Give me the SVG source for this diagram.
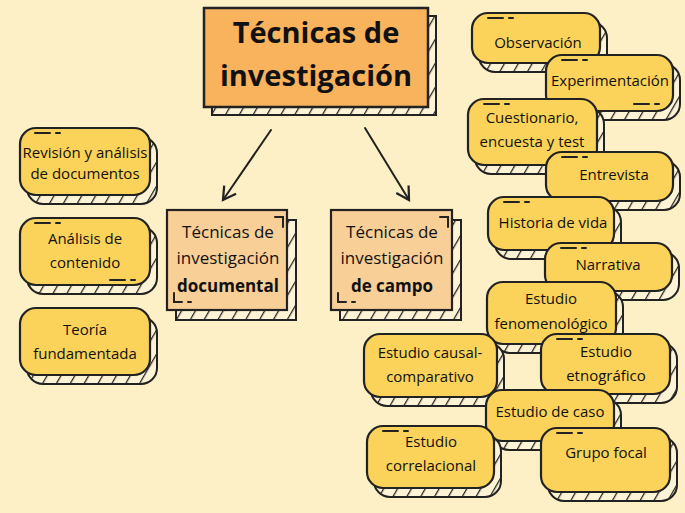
<svg xmlns="http://www.w3.org/2000/svg" width="685" height="513" viewBox="0 0 685 513">
<defs>
<pattern id="h" width="12" height="12" patternUnits="userSpaceOnUse" patternTransform="rotate(30)">
<rect width="12" height="12" fill="#fdf3d6"/><line x1="0" y1="0" x2="0" y2="12" stroke="#222" stroke-width="2.5"/>
</pattern>
<marker id="ar" viewBox="0 0 20 20" refX="16" refY="10" markerWidth="18" markerHeight="18" markerUnits="userSpaceOnUse" orient="auto">
<path d="M2,2 L16,10 L2,18" fill="none" stroke="#222" stroke-width="2.5"/>
</marker>
</defs>
<style>
text{font-family:"Open Sans","Liberation Sans",sans-serif;fill:#111;text-anchor:middle}
.p{font-size:15px}
.b{fill:url(#h);stroke:#222;stroke-width:2}
.y{fill:#fbd35a;stroke:#222;stroke-width:2.2}
.o{fill:#f9cf98;stroke:#222;stroke-width:2.2}
.t{fill:#f8b35c;stroke:#222;stroke-width:2.5}
.d{stroke:#222;stroke-width:2;fill:none;stroke-linecap:round}
</style>
<rect width="685" height="513" fill="#fdf0c6"/>
<g id="connectors">
<line x1="271" y1="130" x2="223" y2="200" class="d" marker-end="url(#ar)"/>
<line x1="365" y1="128" x2="409" y2="200" class="d" marker-end="url(#ar)"/>
</g>
<g id="title">
<rect x="212" y="16" width="224" height="99" class="b"/>
<rect x="204" y="8" width="224" height="99" class="t"/>
<text x="316" y="43" style="font-size:29px;font-weight:bold">Técnicas de</text>
<text x="316" y="86" style="font-size:29px;font-weight:bold">investigación</text>
</g>
<g id="doc">
<rect x="176" y="220" width="120" height="100" class="b"/>
<rect x="167" y="210" width="120" height="100" class="o"/>
<path d="M275,217 H283 V227 M174,293 V302 H182 M188,302 H191" class="d"/>
<text x="228" y="238" class="p" style="font-size:17px">Técnicas de</text>
<text x="228" y="264" class="p" style="font-size:17px">investigación</text>
<text x="228" y="292" class="p" style="font-size:17px;font-weight:bold">documental</text>
</g>
<g id="campo">
<rect x="340" y="220" width="121" height="100" class="b"/>
<rect x="331" y="210" width="121" height="100" class="o"/>
<path d="M440,217 H448 V227 M338,293 V302 H346 M352,302 H355" class="d"/>
<text x="392" y="238" class="p" style="font-size:17px">Técnicas de</text>
<text x="392" y="264" class="p" style="font-size:17px">investigación</text>
<text x="392" y="292" class="p" style="font-size:17px;font-weight:bold">de campo</text>
</g>
<g id="revision"><rect x="27" y="137" width="130" height="67" rx="16" class="b"/><rect x="20" y="128" width="130" height="67" rx="16" class="y"/><path d="M35,133 H50 M56,133 H60" class="d"/><text x="85" y="158" class="p">Revisión y análisis</text><text x="85" y="179" class="p">de documentos</text></g>
<g id="analisis"><rect x="27" y="227" width="130" height="67" rx="16" class="b"/><rect x="20" y="218" width="130" height="67" rx="16" class="y"/><path d="M35,223 H50 M56,223 H60 M110,280 H125 M131,280 H135" class="d"/><text x="85" y="244" class="p">Análisis de</text><text x="85" y="268" class="p">contenido</text></g>
<g id="teoria"><rect x="27" y="317" width="130" height="67" rx="16" class="b"/><rect x="20" y="308" width="130" height="67" rx="16" class="y"/><text x="85" y="335" class="p">Teoría</text><text x="85" y="359" class="p">fundamentada</text></g>
<g id="observacion"><rect x="479" y="22" width="128" height="50" rx="16" class="b"/><rect x="472" y="13" width="128" height="50" rx="16" class="y"/><path d="M488,18 H503 M509,18 H513" class="d"/><text x="538" y="48" class="p">Observación</text></g>
<g id="experimentacion"><rect x="553" y="64" width="127" height="56" rx="16" class="b"/><rect x="546" y="55" width="127" height="56" rx="16" class="y"/><path d="M562,60 H577 M583,60 H587 M634,104 H649 M655,104 H659" class="d"/><text x="610" y="86" class="p">Experimentación</text></g>
<g id="cuestionario"><rect x="475" y="108" width="129" height="66" rx="16" class="b"/><rect x="468" y="99" width="129" height="66" rx="16" class="y"/><path d="M484,104 H499 M505,104 H509" class="d"/><text x="532" y="123" class="p">Cuestionario,</text><text x="532" y="147" class="p">encuesta y test</text></g>
<g id="entrevista"><rect x="553" y="161" width="127" height="49" rx="16" class="b"/><rect x="546" y="152" width="127" height="49" rx="16" class="y"/><path d="M562,157 H577 M583,157 H587" class="d"/><text x="614" y="180" class="p">Entrevista</text></g>
<g id="historia"><rect x="495" y="206" width="126" height="53" rx="16" class="b"/><rect x="488" y="197" width="126" height="53" rx="16" class="y"/><path d="M504,202 H519 M525,202 H529" class="d"/><text x="553" y="228" class="p">Historia de vida</text></g>
<g id="narrativa"><rect x="552" y="252" width="127" height="48" rx="16" class="b"/><rect x="545" y="243" width="127" height="48" rx="16" class="y"/><path d="M561,248 H576 M582,248 H586" class="d"/><text x="608" y="270" class="p">Narrativa</text></g>
<g id="fenomenologico"><rect x="494" y="291" width="129" height="62" rx="16" class="b"/><rect x="487" y="282" width="129" height="62" rx="16" class="y"/><text x="551" y="304" class="p">Estudio</text><text x="551" y="329" class="p">fenomenológico</text></g>
<g id="causal"><rect x="371" y="343" width="133" height="63" rx="16" class="b"/><rect x="364" y="334" width="133" height="63" rx="16" class="y"/><path d="M452,397 H467 M473,397 H477" class="d"/><text x="430" y="358" class="p">Estudio causal-</text><text x="430" y="382" class="p">comparativo</text></g>
<g id="etnografico"><rect x="548" y="343" width="129" height="60" rx="16" class="b"/><rect x="541" y="334" width="129" height="60" rx="16" class="y"/><path d="M557,339 H572 M578,339 H582" class="d"/><text x="606" y="357" class="p">Estudio</text><text x="606" y="381" class="p">etnográfico</text></g>
<g id="caso"><rect x="493" y="399" width="128" height="51" rx="16" class="b"/><rect x="486" y="390" width="128" height="51" rx="16" class="y"/><text x="550" y="417" class="p">Estudio de caso</text></g>
<g id="correlacional"><rect x="374" y="435" width="127" height="62" rx="16" class="b"/><rect x="367" y="426" width="127" height="62" rx="16" class="y"/><path d="M383,431 H398 M404,431 H408" class="d"/><text x="431" y="447" class="p">Estudio</text><text x="431" y="471" class="p">correlacional</text></g>
<g id="focal"><rect x="548" y="437" width="129" height="64" rx="16" class="b"/><rect x="541" y="428" width="129" height="64" rx="16" class="y"/><path d="M557,433 H572 M578,433 H582" class="d"/><text x="606" y="458" class="p">Grupo focal</text></g>
</svg>
